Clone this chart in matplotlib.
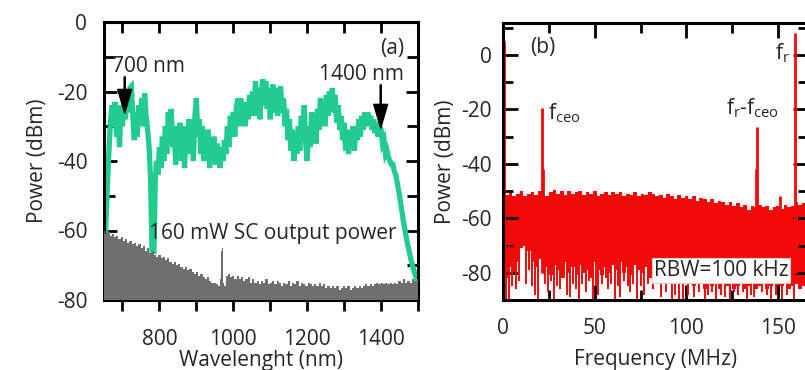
import numpy as np
import matplotlib
matplotlib.use("Agg")
import matplotlib.pyplot as plt
from matplotlib.ticker import MultipleLocator

plt.rcParams['font.family'] = ['Open Sans', 'DejaVu Sans']
plt.rcParams['axes.unicode_minus'] = False

TXT = '#262626'
GREEN = '#22cc8e'
GRAY = '#6f6f6f'
RED = '#f00a0a'

# ---------------- (a) supercontinuum spectrum ----------------
sc_nm = [650, 655, 662, 668, 672, 676, 680, 684, 688, 692, 696, 700,
         704, 708, 712, 716, 720, 724, 728, 732, 736, 740, 744, 748, 752,
         756, 760, 764, 768, 772, 776, 780, 785, 789, 792, 796, 800, 804,
         808, 812, 816, 820, 824, 828, 832, 836, 840, 844, 848, 852, 856,
         860, 864, 868, 872, 876, 880, 884, 888, 892, 896, 900, 904, 908,
         912, 916, 920, 924, 928, 932, 936, 940, 944, 948, 952, 956, 960,
         964, 968, 972, 976, 980, 984, 988, 992, 996, 1000, 1004, 1008,
         1012, 1016, 1020, 1024, 1028, 1032, 1036, 1040, 1044, 1048, 1052,
         1056, 1060, 1064, 1068, 1072, 1076, 1080, 1084, 1088, 1092, 1096,
         1100, 1104, 1108, 1112, 1116, 1120, 1124, 1128, 1132, 1136, 1140,
         1144, 1148, 1152, 1156, 1160, 1164, 1168, 1172, 1176, 1180, 1184,
         1188, 1192, 1196, 1200, 1204, 1208, 1212, 1216, 1220, 1224, 1228,
         1232, 1236, 1240, 1244, 1248, 1252, 1256, 1260, 1264, 1268, 1272,
         1276, 1280, 1284, 1288, 1292, 1296, 1300, 1304, 1308, 1312, 1316,
         1320, 1324, 1328, 1332, 1336, 1340, 1344, 1348, 1352, 1356, 1360,
         1364, 1368, 1372, 1376, 1380, 1384, 1388, 1392, 1396, 1400, 1404,
         1408, 1412, 1416, 1420, 1424, 1428, 1432, 1436, 1440, 1450, 1460,
         1470, 1480, 1490, 1500]
sc_dbm = [-80, -58, -40, -28, -24, -30, -23, -33, -25, -36, -24, -30,
          -22, -28, -20, -26, -19, -18.5, -27, -34, -26, -33, -24, -28, -22,
          -30, -20.5, -27, -31, -36, -45, -66, -66, -45, -40, -44, -36, -42,
          -33, -40, -30, -38, -26, -34, -25, -36, -30, -41, -32, -38, -29,
          -40, -31, -42, -30, -37, -28, -38, -30, -40, -27, -22, -33, -28,
          -38, -30, -40, -33, -38, -31, -42, -35, -40, -33, -41, -35, -38,
          -42, -36, -40, -34, -38, -30, -36, -27, -33, -26, -33, -25,
          -22, -30, -22, -28, -23, -30, -24, -28, -21, -26, -20,
          -27, -17, -24, -19, -28, -20, -16.5, -24, -17, -25, -19,
          -28, -20, -18, -26, -19, -27, -21, -18.5, -26, -22, -30,
          -25, -34, -28, -37, -31, -40, -33, -38, -30, -37, -27,
          -31, -24, -35, -40, -30, -36, -26, -33, -28, -35, -25,
          -31, -22, -28, -24, -30, -21, -27, -20, -25, -19, -26,
          -21, -29, -24, -31, -27, -34, -29, -37, -31, -38, -32,
          -36, -30, -37, -30, -34, -28, -33, -27, -31, -26, -30,
          -26, -29, -27, -31, -28, -32, -29, -33, -30, -31, -35,
          -34, -38, -37, -39, -40, -41, -41, -43, -44, -50, -57,
          -63, -68, -72, -75]

# instrument background
bg_nm = [650, 656, 662, 668, 674, 680, 686, 692, 698, 704, 710, 716, 722,
         728, 734, 740, 746, 752, 758, 764, 770, 776, 782, 788, 794, 800,
         806, 812, 818, 824, 830, 836, 842, 848, 854, 860, 866, 872, 878,
         884, 890, 896, 902, 908, 914, 920, 926, 932, 938, 944, 950, 956,
         962, 966, 968, 970, 972, 974, 978, 982, 988, 994, 1000, 1006, 1012,
         1018, 1024, 1030, 1036, 1042, 1048, 1054, 1060, 1066, 1072, 1078,
         1084, 1090, 1096, 1102, 1108, 1114, 1120, 1126, 1132, 1138, 1144,
         1150, 1156, 1162, 1168, 1174, 1180, 1186, 1192, 1198, 1204, 1210,
         1216, 1222, 1228, 1234, 1240, 1246, 1252, 1258, 1264, 1270, 1276,
         1282, 1288, 1294, 1300, 1306, 1312, 1318, 1324, 1330, 1336, 1342,
         1348, 1354, 1360, 1366, 1372, 1378, 1384, 1390, 1396, 1402, 1408,
         1414, 1420, 1426, 1432, 1438, 1444, 1450, 1456, 1462, 1468, 1474,
         1480, 1486, 1492, 1500]
bg_dbm = [-60, -61, -60.5, -61.5, -61, -62, -61.5, -62.5, -62, -63, -62.5,
          -63.5, -63, -64, -63.5, -64.5, -64, -65, -64.5, -66, -65, -66.5,
          -66, -67, -67.5, -67, -68, -67.5, -68.5, -68, -69, -69.5, -69, -70,
          -69.5, -70.5, -71, -70.5, -71.5, -71, -72, -72.5, -72, -73, -72.5,
          -73.5, -74, -73.5, -74.5, -75, -75, -75.5, -76, -74, -66, -65, -68,
          -75, -76, -73, -72.5, -73.5, -73, -74, -73, -74, -73.5, -74.5, -74,
          -73.5, -75, -74, -75, -74.5, -75.5, -74.5, -75, -74, -75.5, -75,
          -74.5, -75.5, -74.5, -75, -76, -75, -75.5, -74.5, -76, -75, -75.5,
          -74.5, -76, -75, -75.5, -76, -75, -75.5, -76, -75.5, -76, -75, -76,
          -75.5, -76.5, -76, -76.5, -76, -76.5, -76, -77, -76.5, -76, -76.5,
          -76, -77, -76.5, -76, -76.5, -76, -76.5, -76, -75.5, -76, -75.5,
          -76, -75.5, -75, -75.5, -75, -75.5, -75, -75.5, -75, -75.5, -75,
          -75.5, -74.5, -75, -74, -75, -74.5, -75, -74, -74.5, -74]

# ---------------- (b) RF beat spectrum ----------------
band_mhz = np.arange(0, 167, 2)
band_top = [-50, -51.5, -50.5, -52, -51, -50, -52, -51, -50.5, -51.5, -50,
            -51, -52, -50.5, -49.5, -51, -50, -51.5, -50, -51, -50.5,
            -50, -51.5, -50.5, -51, -50, -52, -51, -50.5, -51.5, -50.5,
            -51, -50.5, -52, -51, -51.5, -50.5, -52, -51, -51.5, -50.5,
            -51, -52, -51.5, -52.5, -51, -52, -53, -51.5, -52.5, -52,
            -53, -52, -53.5, -52.5, -53, -54, -53, -54.5, -53.5, -54,
            -55, -54, -55.5, -54.5, -56, -55, -57, -55.5, -56, -55,
            -56, -55.5, -57, -56, -55.5, -56.5, -55, -56, -55.5, -54, -55,
            -54.5, -55]
band_bottom = [-79, -82, -78, -80, -76, -71, -70, -72, -76, -78, -75,
               -80, -78, -81, -77, -79, -82, -76, -80, -78, -81,
               -77, -80, -79, -82, -76, -79, -81, -78, -80, -77,
               -79, -76, -80, -78, -81, -77, -79, -80, -78, -82,
               -80, -83, -81, -82, -80, -84, -82, -83, -81, -84,
               -83, -85, -84, -83, -86, -84, -85, -83, -86, -84,
               -85, -84, -86, -85, -84, -86, -85, -84, -86, -85,
               -84, -86, -85, -84, -86, -85, -84, -86, -85, -84, -86,
               -85, -84]
# narrow downward excursions of the noise floor (MHz, dBm)
dips = [(1.5, -90), (3.5, -90), (5, -85), (7, -86), (8.5, -83), (12.5, -84),
        (14, -79), (16, -85), (17.5, -88), (19, -90), (23, -84), (24.5, -87),
        (26, -83), (28, -90), (29.5, -85), (31, -86), (33, -82), (35, -88),
        (36.5, -89), (38, -84), (40, -86), (41.5, -90), (43, -84), (45, -87),
        (47, -83), (49, -90), (50.5, -85), (52, -88), (54, -84), (56, -82),
        (57.5, -86), (59, -84), (61, -90), (62.5, -85), (64, -89), (66, -83),
        (68, -85), (69.5, -87), (71, -84), (73, -90), (75, -85), (77, -88),
        (79, -84), (82, -86), (86, -89), (89, -87), (92, -90), (94, -88),
        (96, -90), (98, -90), (101, -88), (104, -89), (107, -87), (110, -90),
        (112, -88), (114, -87), (116, -90), (119, -88), (121, -89), (124, -90),
        (126, -87), (128, -88), (131, -87), (133, -90), (135, -88), (137, -89),
        (141, -87), (144, -88), (146, -90), (149, -88), (152, -90), (155, -88),
        (158.5, -90)]
dip_mhz = [d[0] for d in dips]
dip_dbm = [d[1] for d in dips]
peak_mhz = [0.8, 21.1, 21.6, 138.3, 137.8, 151.0, 159.3, 160.0]
peak_dbm = [5, -19.5, -42, -26.5, -42, -52, 8, -55]

fig = plt.figure(figsize=(8.05, 3.70), dpi=100)
ax1 = fig.add_axes([104 / 805, 1 - 300 / 370, 314 / 805, 278 / 370])
ax2 = fig.add_axes([503 / 805, 1 - 300 / 370, 305 / 805, 277 / 370])

# panel (a)
ax1.plot(sc_nm, sc_dbm, color=GREEN, lw=3.8, solid_joinstyle='miter', zorder=2)
ax1.fill_between(bg_nm, bg_dbm, -80, step='mid', color=GRAY, lw=0, zorder=3)
ax1.set_xlim(650, 1500)
ax1.set_ylim(-80, 0)
ax1.xaxis.set_major_locator(MultipleLocator(200))
ax1.xaxis.set_minor_locator(MultipleLocator(100))
ax1.yaxis.set_major_locator(MultipleLocator(20))
ax1.yaxis.set_minor_locator(MultipleLocator(10))
ax1.tick_params(axis='y', which='both', direction='in', left=True, right=True,
                width=2, colors='black', labelcolor=TXT, labelsize=15, pad=12)
ax1.tick_params(axis='y', which='major', length=9)
ax1.tick_params(axis='y', which='minor', length=8)
ax1.tick_params(axis='x', which='both', direction='out', bottom=True, top=False,
                width=2, colors='black', labelcolor=TXT, labelsize=15, pad=13)
ax1.tick_params(axis='x', which='both', length=8)
top1 = ax1.secondary_xaxis('top')
top1.xaxis.set_major_locator(MultipleLocator(100))
top1.tick_params(axis='x', direction='in', length=8, width=2, labeltop=False)
top1.spines['top'].set_linewidth(2.2)
ax1.set_xlabel('Wavelenght (nm)', fontsize=15, color=TXT, labelpad=0)
ax1.set_ylabel('Power (dBm)', fontsize=15, color=TXT, labelpad=6)

ax1.text(1430, -7.5, '(a)', fontsize=15, color=TXT, ha='center', va='center')
ax1.text(771, -12.9, '700 nm', fontsize=15, color=TXT, ha='center', va='center')
ax1.text(1346, -15, '1400 nm', fontsize=15, color=TXT, ha='center', va='center')
ax1.text(1106, -61, '160 mW SC output power', fontsize=15, color=TXT,
         ha='center', va='center', zorder=4)
arrow = dict(facecolor='black', edgecolor='black', width=0.8, headwidth=10,
             headlength=17, shrink=0)
ax1.annotate('', xy=(706, -26.2), xytext=(706, -15.8), arrowprops=arrow, zorder=5)
ax1.annotate('', xy=(1399, -30.5), xytext=(1399, -18.1), arrowprops=arrow, zorder=5)

# panel (b)
ax2.fill_between(band_mhz, band_bottom, band_top, step='mid', color=RED, lw=0)
ax2.vlines(dip_mhz, dip_dbm, -70, color=RED, lw=1.4)
ax2.vlines(peak_mhz, -80, peak_dbm, color=RED, lw=2.0)
ax2.set_xlim(0, 166.3)
ax2.set_ylim(-90, 11.7)
ax2.xaxis.set_major_locator(MultipleLocator(50))
ax2.xaxis.set_minor_locator(MultipleLocator(25))
ax2.yaxis.set_major_locator(MultipleLocator(20))
ax2.yaxis.set_minor_locator(MultipleLocator(10))
ax2.tick_params(which='both', direction='in', left=True, right=True, top=True,
                bottom=True, width=2, colors='black', labelcolor=TXT,
                labelsize=15)
ax2.tick_params(which='major', length=11)
ax2.tick_params(which='minor', length=7)
ax2.tick_params(axis='x', pad=13)
ax2.tick_params(axis='y', pad=8)
ax2.set_xlabel('Frequency (MHz)', fontsize=15, color=TXT, labelpad=7)
ax2.set_ylabel('Power (dBm)', fontsize=15, color=TXT, labelpad=4)

ax2.text(21.8, 2.6, '(b)', fontsize=15, color=TXT, ha='center', va='center')
ax2.text(24.3, -21.5, r'f$_\mathregular{ceo}$', fontsize=15, color=TXT,
         ha='left', va='center')
ax2.text(136.3, -19.5, r'f$_\mathregular{r}$-f$_\mathregular{ceo}$', fontsize=15,
         color=TXT, ha='center', va='center')
ax2.text(152.4, 0.7, r'f$_\mathregular{r}$', fontsize=15, color=TXT,
         ha='center', va='center')
ax2.text(118.9, -79.1, 'RBW=100 kHz', fontsize=15, color=TXT, ha='center',
         va='center', zorder=5,
         bbox=dict(facecolor='white', edgecolor='#d0d0d0', lw=0.8, pad=1.5))

for ax in (ax1, ax2):
    for sp in ax.spines.values():
        sp.set_linewidth(2.2)
        sp.set_color('black')

fig.savefig('out.png', dpi=100)
